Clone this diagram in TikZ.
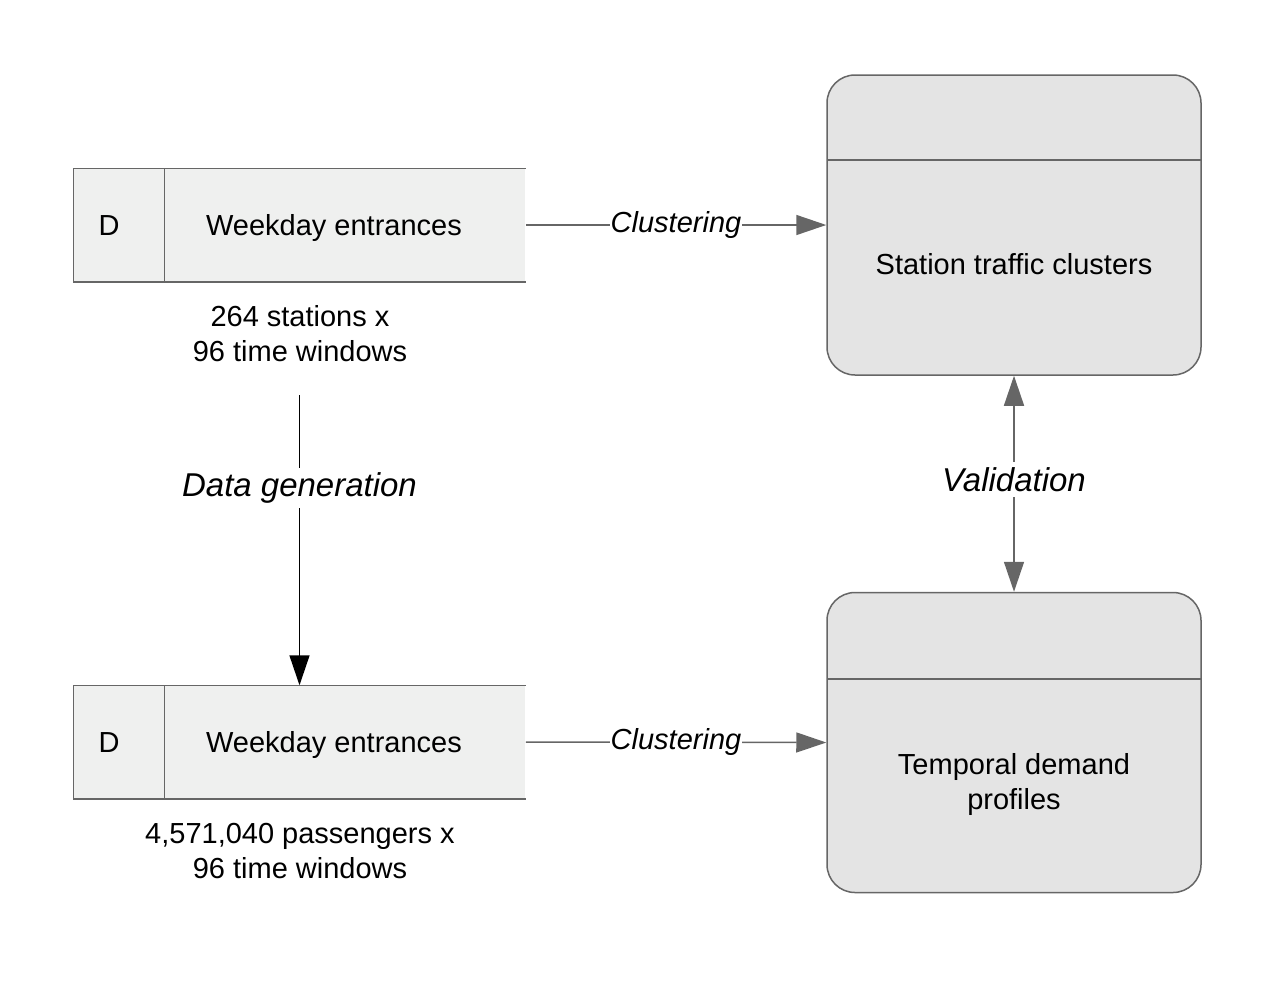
\documentclass[tikz,border=0pt]{standalone}
\usepackage{fontspec}
\setmainfont{Liberation Sans}
\usepackage{tikz}
\usetikzlibrary{arrows.meta}
\definecolor{FlowGray}{RGB}{102,102,102}
\definecolor{StoreFill}{RGB}{239,240,239}
\definecolor{ProcFill}{RGB}{228,228,228}

\begin{document}
\begin{tikzpicture}[x=1pt,y=-1pt,line width=1.5pt,
store/.style={rectangle,fill=StoreFill,minimum width=451pt,minimum height=112pt,inner sep=0pt},
proc/.style={rectangle,draw=FlowGray,fill=ProcFill,rounded corners=28pt,minimum width=374pt,minimum height=300pt,inner sep=0pt},
txt/.style={font=\fontsize{29}{35}\selectfont,align=center,inner sep=0pt},
lbl/.style={font=\fontsize{29}{35}\selectfont\itshape,fill=white,inner sep=1pt},
biglbl/.style={font=\fontsize{33}{40}\selectfont\itshape,fill=white,inner sep=5pt},
flow/.style={draw=FlowGray,-{Triangle[length=30pt,width=20pt]}},
gen/.style={draw=black,-{Triangle[length=30pt,width=20pt]}}]
\useasboundingbox (0,0) rectangle (1277,986);
% data stores
\foreach \n/\y in %
{ds1/225,ds2/742} {
   \node[store](\n) at (299.5,\y) {};
   \draw[FlowGray] (\n.north east) -- (\n.north west) -- (\n.south west) -- (\n.south east);
   \draw[FlowGray] (164.5,\y-56) -- (164.5,\y+56);
   \node[txt,anchor=base](\n d) at (109,\y+10.5) {D};
   \node[txt,anchor=base](\n t) at (334,\y+10.5) {Weekday entrances};
}
\node[txt](note1) at (300,334) {264 stations x\\96 time windows};
\node[txt](note2) at (300,851) {4,571,040 passengers x\\96 time windows};
% processes
\node[proc](c1) at (1014,225) {};
\node[proc](c2) at (1014,742.5) {};
\draw[FlowGray] (827,160) -- (1201,160);
\draw[FlowGray] (827,679) -- (1201,679);
\node[txt](c1t) at (1014,264) {Station traffic clusters};
\node[txt](c2t) at (1014,784) {Temporal demand\\profiles};
% flows
\draw[flow] (ds1.east) -- node[lbl]{Clustering} (c1.west);
\draw[flow] (ds2.east) -- node[lbl]{Clustering} (c2.west);
\coordinate (g1) at (299.5,395);
\draw[gen] (g1) -- node[biglbl,pos=0.32]{Data generation} (ds2.north);
\draw[flow,{Triangle[length=30pt,width=20pt]}-{Triangle[length=30pt,width=20pt]}] (c1.south) -- node[biglbl,pos=0.48]{Validation} (c2.north);
\end{tikzpicture}
\end{document}
